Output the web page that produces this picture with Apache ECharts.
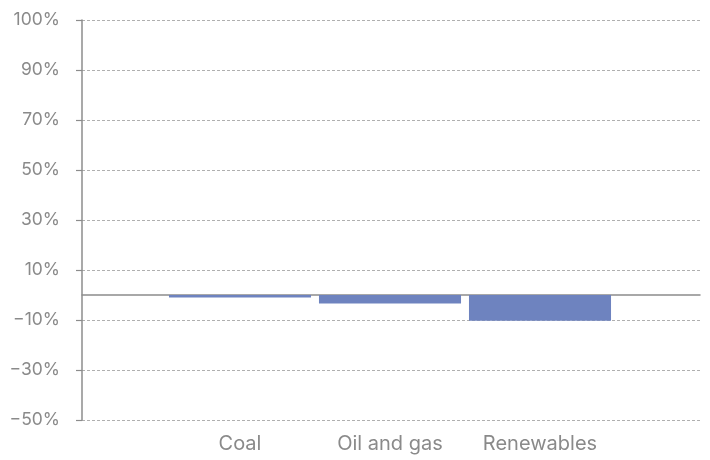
<!DOCTYPE html>
<html>
<head>
<meta charset="utf-8">
<script src="https://cdn.jsdelivr.net/npm/echarts@6/dist/echarts.min.js"></script>
<style>html,body{margin:0;padding:0;background:#fff}#c{width:710px;height:460px}</style>
</head>
<body>
<div id="c"></div>
<script>
const categories = ['Coal', 'Oil and gas', 'Renewables'];
const changeValues = [-1.0, -3.4, -10.3];
const yTickLabels = ['\u221250%', '\u221230%', '\u221210%', '10%', '30%', '50%', '70%', '90%', '100%'];

const textColor = '#8a8a8a';
const fontFamily = 'Inter, "Noto Sans", sans-serif';
const chart = echarts.init(document.getElementById('c'), null, {renderer: 'canvas'});
chart.setOption({
  animation: false,
  grid: [
    {left: 82, right: 10, top: 20, bottom: 40},
    {left: 165, right: 95, top: 20, bottom: 40}
  ],
  xAxis: [
    {gridIndex: 0, type: 'value', min: 0, max: 1,
     axisLine: {show: true, onZero: true, lineStyle: {color: '#8c8c8c', width: 1.5}},
     axisTick: {show: false}, axisLabel: {show: false}, splitLine: {show: false}},
    {gridIndex: 1, type: 'category', data: categories,
     axisLine: {show: false}, axisTick: {show: false},
     axisLabel: {color: textColor, fontSize: 20, fontFamily: fontFamily, margin: 14}}
  ],
  yAxis: [
    {gridIndex: 0, type: 'value', min: -50, max: 110, interval: 20,
     axisLine: {show: true, lineStyle: {color: '#8c8c8c', width: 1.5}},
     axisTick: {show: true, length: 6, lineStyle: {color: '#8c8c8c', width: 1.2}},
     axisLabel: {color: textColor, fontSize: 17.5, fontFamily: fontFamily, margin: 22,
       formatter: (v, i) => yTickLabels[i]},
     splitLine: {show: true, lineStyle: {color: '#9a9a9a', type: [3, 2], width: 0.8}}},
    {gridIndex: 1, type: 'value', min: -50, max: 110, interval: 20, show: false,
     splitLine: {show: false}}
  ],
  series: [{
    type: 'bar', xAxisIndex: 1, yAxisIndex: 1,
    data: changeValues, barCategoryGap: '5.3%',
    itemStyle: {color: '#6e83bf'}, z: 1
  }]
});
</script>
</body>
</html>
